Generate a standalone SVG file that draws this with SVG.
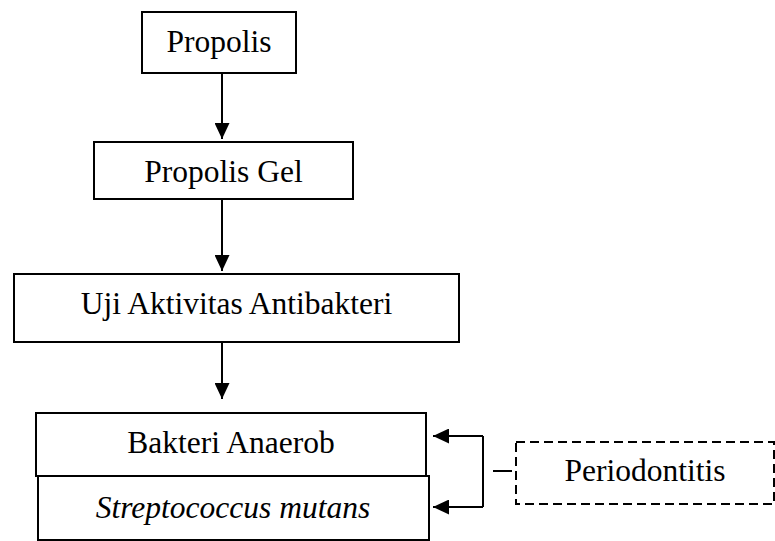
<svg xmlns="http://www.w3.org/2000/svg" width="775" height="541" viewBox="0 0 775 541">
<style>
.box{fill:#fff;stroke:#000;stroke-width:2}
.dash{fill:#fff;stroke:#000;stroke-width:2;stroke-dasharray:9 5}
.t{font-family:"Liberation Serif","Times New Roman",serif;font-size:31.5px;fill:#000;text-anchor:middle}
.it{font-style:italic}
.c{fill:none;stroke:#000;stroke-width:2}
</style>
<defs>
<marker id="ah" markerUnits="userSpaceOnUse" markerWidth="16" markerHeight="15" refX="16" refY="7.5" orient="auto">
<path d="M0,0 L16,7.5 L0,15 z" fill="#000"/>
</marker>
</defs>
<rect width="775" height="541" fill="#fff"/>
<g id="connectors">
<line class="c" x1="222" y1="73" x2="222" y2="139" marker-end="url(#ah)"/>
<line class="c" x1="222" y1="199" x2="222" y2="271" marker-end="url(#ah)"/>
<line class="c" x1="222" y1="342" x2="222" y2="399" marker-end="url(#ah)"/>
<polyline class="c" points="483,436 483,507"/>
<line class="c" x1="483" y1="436" x2="433" y2="436" marker-end="url(#ah)"/>
<line class="c" x1="483" y1="507" x2="433" y2="507" marker-end="url(#ah)"/>
<line class="c" x1="493" y1="471" x2="512" y2="471"/>
</g>
<g id="propolis">
<rect class="box" x="142" y="12" width="154" height="61"/>
<text class="t" x="219" y="52">Propolis</text>
</g>
<g id="propolis-gel">
<rect class="box" x="94" y="142" width="259" height="57"/>
<text class="t" x="223.5" y="182">Propolis Gel</text>
</g>
<g id="uji">
<rect class="box" x="14" y="274" width="445" height="68"/>
<text class="t" x="236.5" y="314">Uji Aktivitas Antibakteri</text>
</g>
<g id="bakteri-anaerob">
<rect class="box" x="36" y="413" width="390" height="63"/>
<text class="t" x="231" y="453">Bakteri Anaerob</text>
</g>
<g id="streptococcus">
<rect class="box" x="38" y="476" width="391" height="64"/>
<text class="t it" x="233" y="518">Streptococcus mutans</text>
</g>
<g id="periodontitis">
<rect class="dash" x="516" y="442" width="258" height="62"/>
<text class="t" x="645" y="481">Periodontitis</text>
</g>
</svg>
